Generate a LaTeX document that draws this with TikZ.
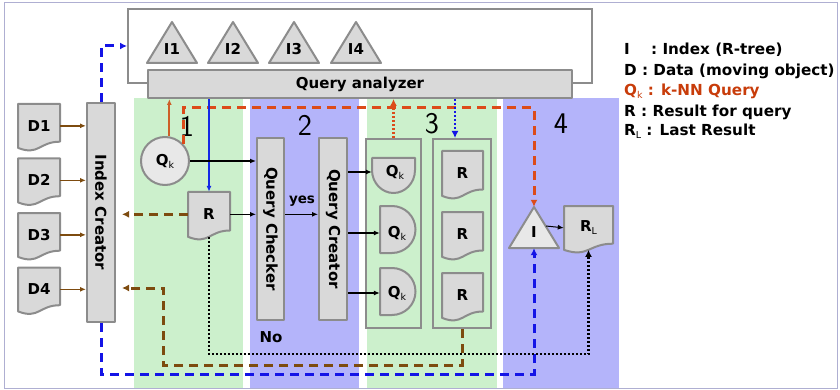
\documentclass[tikz,border=0pt]{standalone}
\usepackage{fontspec}
\setmainfont{DejaVu Sans}
\usetikzlibrary{arrows.meta,calc}
\definecolor{gline}{RGB}{140,140,140}
\definecolor{gfill}{RGB}{217,217,217}
\definecolor{gfill2}{RGB}{232,232,232}
\definecolor{bandG}{RGB}{204,240,204}
\definecolor{bandB}{RGB}{180,180,250}
\definecolor{dblue}{RGB}{20,20,230}
\definecolor{sblue}{RGB}{20,40,230}
\definecolor{brn}{RGB}{125,75,15}
\definecolor{rdash}{RGB}{220,75,25}
\definecolor{osolid}{RGB}{205,95,40}
\definecolor{legred}{RGB}{200,60,10}
\definecolor{framec}{RGB}{175,175,210}
\newcommand\sbs[1]{\raisebox{-0.35ex}{\fontsize{9.5}{9.5}\selectfont\mdseries #1}}
\tikzset{
  shapeline/.style={draw=gline, fill=gfill, line width=2pt, line join=round},
  box/.style={shapeline, inner sep=0pt, font=\bfseries\fontsize{15}{15}\selectfont},
  lbl/.style={inner sep=0pt, font=\bfseries\fontsize{15}{15}\selectfont},
  leg/.style={inner sep=0pt, anchor=west, font=\bfseries\fontsize{15.2}{15.2}\selectfont},
  numlbl/.style={inner sep=0pt, font=\sffamily\fontsize{30}{30}\selectfont},
  tip/.style={-{Latex[length=6pt,width=5pt]}},
  bigtip/.style={-{Latex[length=7pt,width=7pt]}},
  blk/.style={tip, draw=black, line width=1.3pt},
  brarr/.style={tip, draw=brn, line width=1.6pt},
  bdash/.style={bigtip, draw=dblue, line width=3pt, dash pattern=on 9pt off 6pt},
  brdash/.style={bigtip, draw=brn, line width=3pt, dash pattern=on 9pt off 6pt},
  rddash/.style={bigtip, draw=rdash, line width=3pt, dash pattern=on 9pt off 6pt},
  kdot/.style={bigtip, draw=black, line width=2.4pt, dash pattern=on 2pt off 2pt},
  bdot/.style={bigtip, draw=dblue, line width=2.4pt, dash pattern=on 2pt off 2pt},
  odot/.style={bigtip, draw=rdash, line width=2.4pt, dash pattern=on 2pt off 2pt},
}
\newcommand\docshape[6]{%
  \draw[shapeline] (#2,#3) -- ({#2+#4},#3) -- ({#2+#4},{#3+0.802*#5})
    .. controls ({#2+0.5*#4},{#3+0.802*#5}) and ({#2+0.5*#4},{#3+1.107*#5}) .. (#2,{#3+0.934*#5}) -- cycle;
  \node[lbl, minimum width=#4pt, minimum height={0.93*#5pt}] (#1) at ({#2+0.5*#4},{#3+0.465*#5}) {#6};
}
\begin{document}
\begin{tikzpicture}[x=1pt,y=-1pt]
\useasboundingbox (0,0) rectangle (840,390);
% bands
\fill[bandG] (134,98) rectangle (243,388);
\fill[bandB] (250,98) rectangle (359,388);
\fill[bandG] (367,98) rectangle (497,388);
\fill[bandB] (503,98) rectangle (619,388);
\draw[framec, line width=1pt] (4,3) rectangle (837,388);
% top box with indexes
\node[draw=gline, line width=2pt, fill=white, minimum width=464pt, minimum height=74pt, inner sep=0pt] (TB) at (360,46) {};
\foreach \n/\cx in {1/172,2/233,3/294,4/356} {
  \draw[shapeline] (\cx-25,63) -- (\cx+25,63) -- (\cx,22) -- cycle;
  \node[lbl] (I\n) at (\cx,49) {I\n};
}
\node[box, minimum width=424pt, minimum height=28pt] (QA) at (360,84) {Query analyzer};
% data
\docshape{D1}{18}{104}{42}{47}{D1}
\docshape{D2}{18}{158.5}{42}{47}{D2}
\docshape{D3}{18}{213}{42}{47}{D3}
\docshape{D4}{18}{267.5}{42}{47}{D4}
\node[box, minimum width=28pt, minimum height=219pt] (IC) at (101,212.5) {\rotatebox{-90}{Index Creator}};
% zone 1
\node[box, circle, fill=gfill2, minimum size=48pt] (Qk) at (165,161) {Q\sbs{k}};
\docshape{R}{188}{192}{42}{48}{R}
% zone 2
\node[box, minimum width=27pt, minimum height=182pt] (QCh) at (270.5,229) {\rotatebox{-90}{Query Checker}};
\node[box, minimum width=28pt, minimum height=182pt] (QCr) at (333,229) {\rotatebox{-90}{Query Creator}};
% zone 3
\node[draw=gline, line width=2pt, minimum width=55pt, minimum height=189pt, inner sep=0pt] (QKbox) at (393.5,233.5) {};
\node[draw=gline, line width=2pt, minimum width=58pt, minimum height=189pt, inner sep=0pt] (RBox) at (462,233.5) {};
\draw[shapeline] (372,158) -- (415,158) -- (415,170) .. controls (415,183) and (405,193) .. (393.5,193) .. controls (382,193) and (372,183) .. (372,170) -- cycle;
\node[lbl, minimum width=46pt, minimum height=20pt] (Qa) at (395,172) {Q\sbs{k}};
\draw[shapeline] (380,206) -- (392,206) .. controls (405,206) and (415.5,216.5) .. (415.5,229.5) .. controls (415.5,242.5) and (405,253) .. (392,253) -- (380,253) -- cycle;
\node[lbl, minimum width=34pt, minimum height=20pt] (Qb) at (397,233) {Q\sbs{k}};
\draw[shapeline] (380,268) -- (392,268) .. controls (405,268) and (415.5,278.5) .. (415.5,291.5) .. controls (415.5,304.5) and (405,315) .. (392,315) -- (380,315) -- cycle;
\node[lbl, minimum width=34pt, minimum height=20pt] (Qc) at (397,293) {Q\sbs{k}};
\docshape{R1}{442}{151}{41}{48}{R}
\docshape{R2}{442}{212}{41}{48}{R}
\docshape{R3}{442}{273}{41}{48}{R}
% zone 4
\draw[shapeline, fill=gfill2] (509,248) -- (559,248) -- (534,207) -- cycle;
\node[minimum width=50pt, minimum height=41pt, inner sep=0pt] (Itri) at (534,227.5) {};
\node[lbl] (Ilbl) at (534,232) {I};
\docshape{RL}{564}{206}{49}{47}{R\sbs{L}}
\coordinate (Iedge) at (546,226);
% zone numbers
\node[numlbl] (n1) at (187,126) {1};
\node[numlbl] (n2) at (305,125) {2};
\node[numlbl] (n3) at (432,124) {3};
\node[numlbl] (n4) at (561,124) {4};
% labels
\node[lbl, font=\bfseries\fontsize{13.5}{13.5}\selectfont] (yes) at (302,201) {yes};
\node[lbl] (no) at (271,337) {No};
% legend
\node[leg] (L1) at (624,50) {I\hspace{1.4em}: Index (R-tree)};
\node[leg] (L2) at (624,71) {D : Data (moving object)};
\node[leg, text=legred] (L3) at (624,91.5) {Q\sbs{k} : k-NN Query};
\node[leg] (L4) at (624,112) {R : Result for query};
\node[leg] (L5) at (624,131.5) {R\sbs{L} : Last Result};
% connectors
\foreach \d in {D1,D2,D3,D4} \draw[brarr] (\d.east) -- (\d.east -| IC.west);
\draw[bdash] (IC.north) |- (TB.west);
\draw[bdash] (IC.south) -- (IC.south |- 0,374) -| (Itri.south);
\draw[osolid, line width=2pt, tip] (Qk.80) -- (Qk.80 |- QA.south);
\draw[rddash] (Qk.42) -- (Qk.42 |- 0,108) -| (Itri.north);
\draw[sblue, line width=1.6pt, tip] (R.north |- QA.south) -- (R.north);
\draw[blk] (Qk.east) -- (Qk.east -| QCh.west);
\draw[blk] (R.east) -- (R.east -| QCh.west);
\draw[blk] (R.east -| QCh.east) -- (R.east -| QCr.west);
\draw[blk] (Qa.west -| QCr.east) -- (Qa.west);
\draw[blk] (Qb.west -| QCr.east) -- (Qb.west);
\draw[blk] (Qc.west -| QCr.east) -- (Qc.west);
\draw[odot] (QKbox.north) -- (QKbox.north |- QA.south);
\draw[bdot] ([xshift=-7pt]RBox.north |- QA.south) -- ([xshift=-7pt]RBox.north);
\draw[kdot] (R.south) -- (R.south |- 0,354) -| (RL.south);
\draw[blk, line width=1pt] (Iedge) -- (RL.west);
\draw[brdash, shorten >=6pt] (R.west) -- (R.west -| IC.east);
\coordinate (bc) at (163,288);
\draw[brdash, shorten >=6pt] (RBox.south) -- (RBox.south |- 0,365) -| (bc) -- (bc -| IC.east);
\end{tikzpicture}
\end{document}
